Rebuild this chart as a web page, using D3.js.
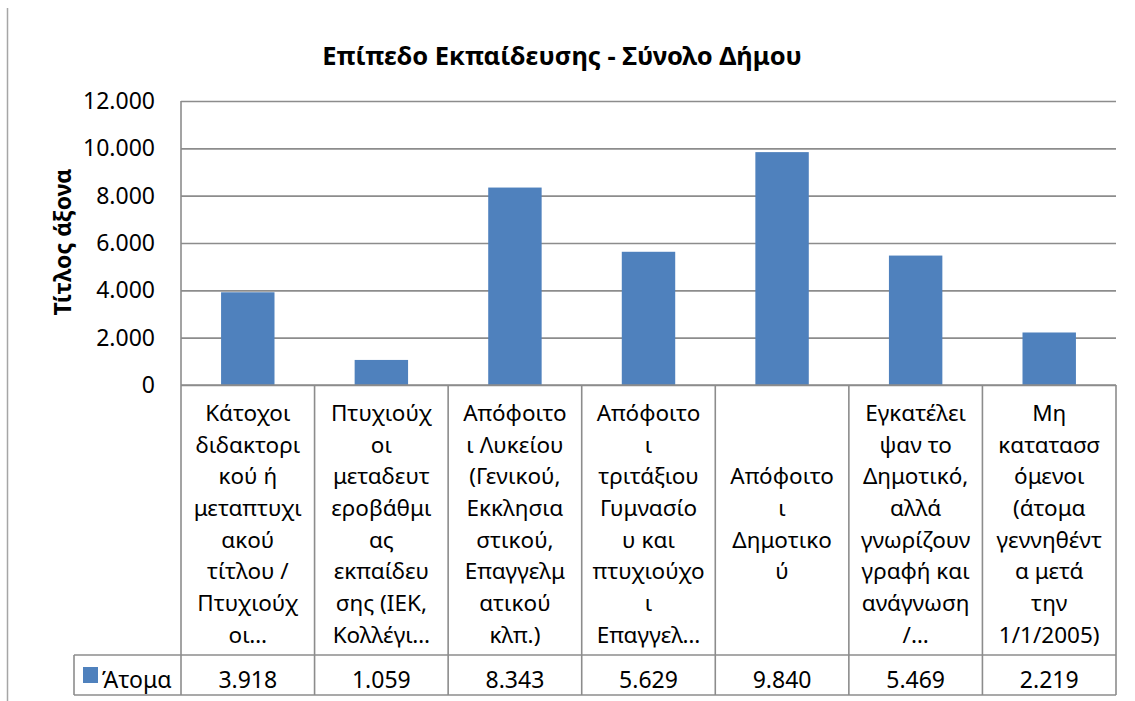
<!DOCTYPE html>
<html>
<head>
<meta charset="utf-8">
<script src="https://cdn.jsdelivr.net/npm/d3@7"></script>
<style>
	body { margin: 0; background: #fff; }
	svg { display: block; font-family: "Noto Sans", sans-serif; }
</style>
</head>
<body>
<svg id="chart" width="1135" height="701"></svg>
<script>
// data
var chartTitle = "Επίπεδο Εκπαίδευσης - Σύνολο Δήμου";
var axisTitle = "Τίτλος άξονα";
var seriesName = "Άτομα";
var categoryLines = [
	["Κάτοχοι", "διδακτορι", "κού ή", "μεταπτυχι", "ακού", "τίτλου /", "Πτυχιούχ", "οι…"],
	["Πτυχιούχ", "οι", "μεταδευτ", "εροβάθμι", "ας", "εκπαίδευ", "σης (ΙΕΚ,", "Κολλέγι…"],
	["Απόφοιτο", "ι Λυκείου", "(Γενικού,", "Εκκλησια", "στικού,", "Επαγγελμ", "ατικού", "κλπ.)"],
	["Απόφοιτο", "ι", "τριτάξιου", "Γυμνασίο", "υ και", "πτυχιούχο", "ι", "Επαγγελ…"],
	["Απόφοιτο", "ι", "Δημοτικο", "ύ"],
	["Εγκατέλει", "ψαν το", "Δημοτικό,", "αλλά", "γνωρίζουν", "γραφή και", "ανάγνωση", "/…"],
	["Μη", "κατατασσ", "όμενοι", "(άτομα", "γεννηθέντ", "α μετά", "την", "1/1/2005)"]
];
var values = [3918, 1059, 8343, 5629, 9840, 5469, 2219];
var yTicks = [0, 2000, 4000, 6000, 8000, 10000, 12000];

var grid = "#8c8c8c",
	barColor = "#4f81bd",
	fontSize = 23,
	catFontSize = 22.5;

var plot = {left: 181, right: 1116, top: 101, bottom: 385},
	table = {catBottom: 655, valBottom: 695, legendLeft: 74},
	lineHeight = 31.7;

var svg = d3.select("#chart");

var grLocale = d3.formatLocale({decimal: ",", thousands: ".", grouping: [3], currency: ["", "€"]});
var fmt = grLocale.format(",");

var x = d3.scaleBand()
	.domain(d3.range(values.length))
	.range([plot.left, plot.right])
	.padding(0);

var y = d3.scaleLinear()
	.domain([0, 12000])
	.range([plot.bottom, plot.top]);

// outer border line on the left
svg.append("line")
	.attr("x1", 7.5).attr("x2", 7.5)
	.attr("y1", 8).attr("y2", 701)
	.attr("stroke", "#a6a6a6").attr("stroke-width", 1.5);

// title
svg.append("text")
	.attr("x", 562).attr("y", 65)
	.attr("text-anchor", "middle")
	.attr("font-size", 25.5).attr("font-weight", "bold")
	.attr("fill", "#000")
	.text(chartTitle);

// gridlines + y axis labels
var yAxis = d3.axisLeft(y)
	.tickValues(yTicks)
	.tickSize(-(plot.right - plot.left))
	.tickPadding(26)
	.tickFormat(fmt);

var gy = svg.append("g")
	.attr("transform", "translate(" + plot.left + ",0)")
	.call(yAxis);
gy.select(".domain").remove();
gy.selectAll(".tick line")
	.attr("stroke", grid).attr("stroke-width", 1.6);
gy.selectAll(".tick text")
	.attr("font-size", fontSize)
	.attr("font-family", "Noto Sans, sans-serif")
	.attr("fill", "#000");

// axis title
svg.append("text")
	.attr("transform", "translate(71,242) rotate(-90)")
	.attr("text-anchor", "middle")
	.attr("font-size", 23).attr("font-weight", "bold")
	.text(axisTitle);

// bars
svg.selectAll(".bar")
	.data(values)
	.enter()
	.append("rect")
	.attr("class", "bar")
	.attr("x", function(d, i) { return x(i) + x.bandwidth() * 0.3; })
	.attr("width", x.bandwidth() * 0.4)
	.attr("y", function(d) { return y(d); })
	.attr("height", function(d) { return y(0) - y(d); })
	.attr("fill", barColor);

// data table lines
var lines = svg.append("g").attr("stroke", grid).attr("stroke-width", 1.6);
lines.append("line")
	.attr("x1", plot.left).attr("x2", plot.right)
	.attr("y1", plot.bottom).attr("y2", plot.bottom);
lines.append("line")
	.attr("x1", table.legendLeft).attr("x2", plot.right)
	.attr("y1", table.catBottom).attr("y2", table.catBottom);
lines.append("line")
	.attr("x1", table.legendLeft).attr("x2", plot.right)
	.attr("y1", table.valBottom).attr("y2", table.valBottom);
lines.append("line")
	.attr("x1", table.legendLeft).attr("x2", table.legendLeft)
	.attr("y1", table.catBottom).attr("y2", table.valBottom);
lines.append("line")
	.attr("x1", plot.left).attr("x2", plot.left)
	.attr("y1", plot.top).attr("y2", table.valBottom);
lines.selectAll(".col")
	.data(d3.range(values.length))
	.enter()
	.append("line")
	.attr("x1", function(i) { return x(i) + x.bandwidth(); })
	.attr("x2", function(i) { return x(i) + x.bandwidth(); })
	.attr("y1", plot.bottom).attr("y2", table.valBottom);

// category labels
var catMid = (plot.bottom + table.catBottom) / 2 + 4;
svg.selectAll(".cat")
	.data(categoryLines)
	.enter()
	.append("text")
	.attr("class", "cat")
	.attr("text-anchor", "middle")
	.attr("font-size", catFontSize)
	.each(function(d, i) {
		var cx = x(i) + x.bandwidth() / 2;
		var start = catMid - (d.length - 1) * lineHeight / 2;
		d3.select(this).selectAll("tspan")
			.data(d)
			.enter()
			.append("tspan")
			.attr("x", cx)
			.attr("y", function(l, j) { return start + j * lineHeight; })
			.attr("dy", "0.35em")
			.text(function(l) { return l; });
	});

// values row
svg.selectAll(".val")
	.data(values)
	.enter()
	.append("text")
	.attr("class", "val")
	.attr("x", function(d, i) { return x(i) + x.bandwidth() / 2; })
	.attr("y", 688)
	.attr("text-anchor", "middle")
	.attr("font-size", fontSize)
	.text(function(d) { return fmt(d); });

// legend key
svg.append("rect")
	.attr("x", 83).attr("y", 667)
	.attr("width", 15).attr("height", 16)
	.attr("fill", barColor);
svg.append("text")
	.attr("x", 102).attr("y", 688)
	.attr("font-size", fontSize)
	.text(seriesName);
</script>
</body>
</html>
